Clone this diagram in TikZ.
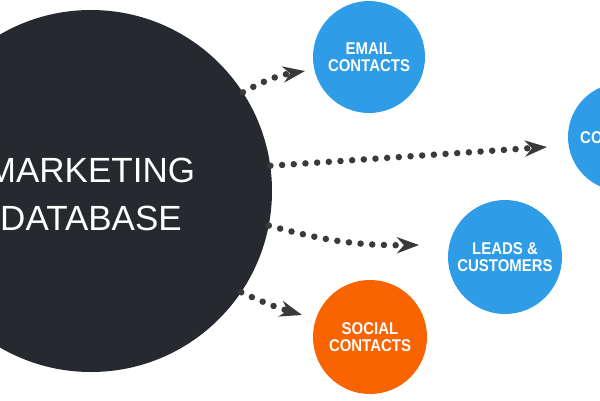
\documentclass[tikz,border=0pt]{standalone}
\usepackage{fontspec}
\setmainfont{Liberation Sans}
\newfontfamily\narrowfont{Liberation Sans}[FakeStretch=0.88]
\usetikzlibrary{arrows.meta}
\definecolor{dbdark}{HTML}{26292D}
\definecolor{cblue}{HTML}{2E9CE7}
\definecolor{corange}{HTML}{F96400}
\definecolor{dotgray}{HTML}{3A3A3A}
\begin{document}
\begin{tikzpicture}[x=1pt,y=-1pt,
  bubble/.style={circle,fill=#1,text=white,inner sep=0pt,align=center,
    font=\narrowfont\bfseries\fontsize{17}{17}\selectfont},
  flow/.style={draw=dotgray,line width=6.5pt,line cap=round,
    dash pattern=on 0pt off 11.7pt,
    -{Stealth[length=22pt,width=16pt,inset=7pt,fill=dotgray]}}]
\useasboundingbox (0,0) rectangle (600,400);
\clip (0,0) rectangle (600,400);
% the database
\node[circle,fill=dbdark,minimum size=362pt] (db) at (91,191) {};
\node[text=white,align=center,font=\fontsize{35}{48}\selectfont] (dbtext) at (91,194) {MARKETING\\DATABASE};
% target groups
\node[bubble=cblue,minimum size=112pt] (email) at (369,57) {EMAIL\\CONTACTS};
\node[bubble=cblue,minimum size=108pt] (co) at (622,137) {};
\node[font=\narrowfont\bfseries\fontsize{17}{17}\selectfont,text=white,anchor=west,inner sep=0pt] (cotext) at (580,138) {CO};
\node[bubble=cblue,minimum size=114pt] (leads) at (505,257) {LEADS \&\\CUSTOMERS};
\node[bubble=corange,minimum size=114pt] (social) at (370,337) {SOCIAL\\CONTACTS};
% arrow tips
\coordinate (t1) at (305,71);
\coordinate (t2) at (547,147);
\coordinate (t3) at (419,245);
\coordinate (t4) at (302,315);
\draw[flow] (db.33) to[bend left=10] (t1);
\draw[flow] (db.8.7) -- (t2);
\draw[flow] (db.-11.5) to[bend right=8] (t3);
\draw[flow] (db.-34.5) to[bend right=4] (t4);
\end{tikzpicture}
\end{document}
